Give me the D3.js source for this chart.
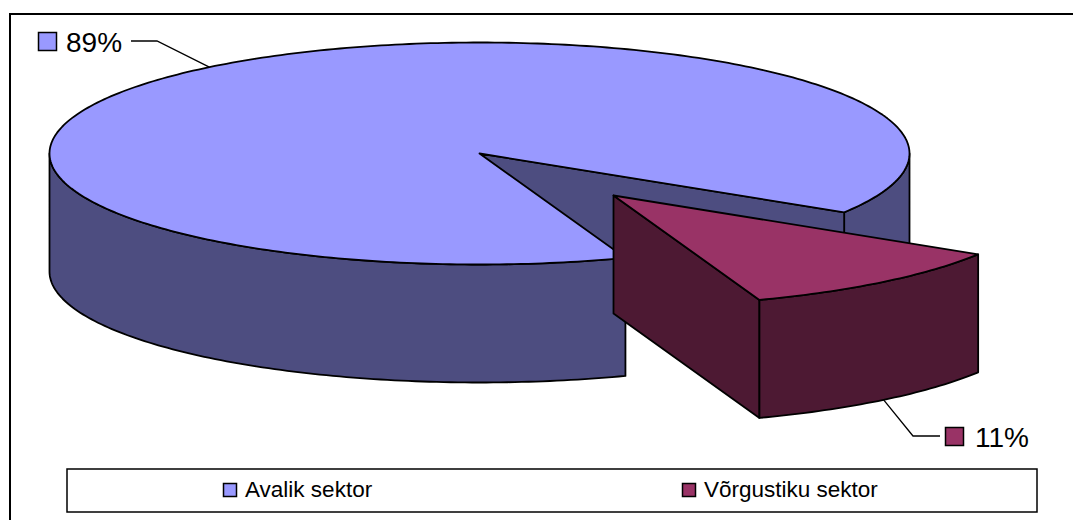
<!DOCTYPE html>
<html>
<head>
<meta charset="utf-8">
<script src="https://cdn.jsdelivr.net/npm/d3@7"></script>
<style>
    html, body { margin: 0; padding: 0; background: #fff; overflow: hidden; }
    svg { display: block; }
    text { font-family: "Liberation Sans", Arial, sans-serif; fill: #000; }
    .edge { stroke: #000; stroke-width: 1.8; stroke-linejoin: round; }
</style>
</head>
<body>
<div id="chart"></div>
<script>
// values (shown rounded, as 89% and 11%)
var categories = ["Avalik sektor", "Võrgustiku sektor"];
var shares = [89.4, 10.6];

var width = 1073, height = 520;

var topColor = d3.scaleOrdinal().domain(categories).range(["#9999ff", "#993366"]);
var sideColor = d3.scaleOrdinal().domain(categories).range(["#4d4d80", "#4d1933"]);

// unit circle -> ellipse of the pie top
var x = d3.scaleLinear().domain([-1, 1]).range([49.5, 909.5]);
var y = d3.scaleLinear().domain([-1, 1]).range([42.5, 264.5]);
var depth = 118;
var explode = { dx: 134, dy: 42 };

var line = d3.line();

var svg = d3.select("#chart").append("svg")
    .attr("width", width)
    .attr("height", height);

var rad = Math.PI / 180;
var startDeg = 160.16;
var slices = d3.pie().sort(null)
    .startAngle(startDeg * rad)
    .endAngle((startDeg + 360) * rad)(shares);

function pt(a, dx, dy) {
    return [x(Math.sin(a)) + (dx || 0), y(-Math.cos(a)) + (dy || 0)];
}

function arcPoints(a0, a1, dx, dy) {
    var n = Math.max(2, Math.ceil(Math.abs(a1 - a0) * 60));
    return d3.range(n + 1).map(function(i) {
        return pt(a0 + (a1 - a0) * i / n, dx, dy);
    });
}

function wall(a0, a1, dx, dy) {
    dx = dx || 0;
    dy = dy || 0;
    return arcPoints(a0, a1, dx, dy).concat(arcPoints(a1, a0, dx, dy + depth));
}

function draw(points, fill) {
    svg.append("path")
        .attr("class", "edge")
        .attr("d", line(points) + "Z")
        .attr("fill", fill);
}

var big = slices[0], small = slices[1];
var bigTop = topColor(categories[0]), bigSide = sideColor(categories[0]);
var smallTop = topColor(categories[1]), smallSide = sideColor(categories[1]);
var center = [x(0), y(0)];

// big slice, back to front
draw(wall(90 * rad, big.endAngle - 2 * Math.PI), bigSide);
draw([center, pt(big.endAngle), pt(big.endAngle, 0, depth), [center[0], center[1] + depth]], bigSide);
draw(wall(big.startAngle, 270 * rad), bigSide);
draw([center].concat(arcPoints(big.startAngle, big.endAngle)), bigTop);

// exploded slice
var ex = explode.dx, ey = explode.dy;
var c2 = [center[0] + ex, center[1] + ey];
draw([c2, pt(small.endAngle, ex, ey), pt(small.endAngle, ex, ey + depth), [c2[0], c2[1] + depth]], smallSide);
draw(wall(small.startAngle, small.endAngle, ex, ey), smallSide);
draw([c2].concat(arcPoints(small.startAngle, small.endAngle, ex, ey)), smallTop);

// chart frame, only left and top are inside the picture
svg.append("path")
    .attr("d", "M10,520V14H1073")
    .attr("fill", "none")
    .attr("stroke", "#000")
    .attr("stroke-width", 2);

// leader lines start at the middle of each slice
var bigMid = pt((big.startAngle + big.endAngle) / 2);
var smallMid = pt((small.startAngle + small.endAngle) / 2, ex, ey + depth);

svg.append("path")
    .attr("d", line([[131, 41], [157, 41], bigMid]))
    .attr("fill", "none").attr("stroke", "#000").attr("stroke-width", 1.3);
svg.append("path")
    .attr("d", line([smallMid, [913, 436], [940, 436]]))
    .attr("fill", "none").attr("stroke", "#000").attr("stroke-width", 1.3);

// data labels
var labelBoxes = [{ x: 38, y: 32, tx: 66 }, { x: 945, y: 427, tx: 975 }];
slices.forEach(function(d, i) {
    svg.append("rect")
        .attr("x", labelBoxes[i].x + 0.5)
        .attr("y", labelBoxes[i].y + 0.5)
        .attr("width", 18)
        .attr("height", 18)
        .attr("fill", topColor(categories[i]))
        .attr("stroke", "#000")
        .attr("stroke-width", 1.5);
    svg.append("text")
        .attr("x", labelBoxes[i].tx)
        .attr("y", labelBoxes[i].y + 20)
        .attr("font-size", 28)
        .text(Math.round(d.data) + "%");
});

// legend
svg.append("rect")
    .attr("x", 67)
    .attr("y", 469)
    .attr("width", 970)
    .attr("height", 43)
    .attr("fill", "#fff")
    .attr("stroke", "#000")
    .attr("stroke-width", 1.5);

var legendX = d3.scaleOrdinal().domain(categories).range([223, 682]);

categories.forEach(function(c) {
    svg.append("rect")
        .attr("x", legendX(c) + 0.5)
        .attr("y", 483.5)
        .attr("width", 13)
        .attr("height", 13)
        .attr("fill", topColor(c))
        .attr("stroke", "#000")
        .attr("stroke-width", 1.5);
    svg.append("text")
        .attr("x", legendX(c) + 22)
        .attr("y", 497)
        .attr("font-size", 22.5)
        .text(c);
});
</script>
</body>
</html>
